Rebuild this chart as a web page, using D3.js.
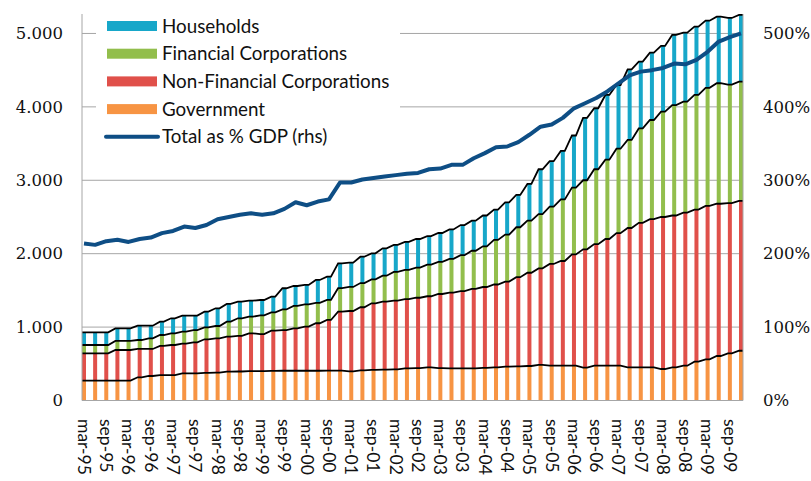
<!DOCTYPE html>
<html><head><meta charset="utf-8">
<script src="https://cdn.jsdelivr.net/npm/d3@7/dist/d3.min.js"></script>
<style>body{margin:0;background:#fff}svg{display:block}</style>
</head><body>
<svg id="c" width="811" height="481"></svg>
<script>
const quarters = [];
const yrs = ["95","96","97","98","99","00","01","02","03","04","05","06","07","08","09"];
const months = ["mar","jun","sep","dec"];
yrs.forEach(y => months.forEach(m => quarters.push(m + "-" + y)));

const government = [270,270,270,270,270,316,334,347,347,370,370,375,380,392,395,400,400,403,405,405,
  405,405,406,406,398,410,416,420,425,438,440,452,440,438,438,438,445,452,461,466,
  470,484,474,474,474,447,474,474,474,452,452,452,429,452,474,529,561,606,643,678];
const nonFinancial = [373,373,373,418,418,386,368,396,409,405,423,459,465,477,485,515,505,548,555,578,
  601,647,691,804,821,860,908,926,935,942,960,968,1011,1032,1052,1082,1101,1128,1159,1214,
  1270,1316,1386,1426,1516,1613,1656,1726,1806,1898,1968,2018,2071,2068,2086,2071,2089,2074,2047,2042];
const financial = [113,113,113,123,123,122,145,149,159,163,167,163,170,205,240,227,255,249,280,305,
  304,278,273,320,328,330,326,354,391,400,410,430,437,460,490,520,554,607,640,680,
  710,740,780,840,910,940,1020,1080,1150,1200,1286,1351,1434,1505,1510,1562,1610,1642,1612,1623];
const households = [173,173,173,172,172,195,172,182,205,218,196,213,241,241,226,218,209,214,289,272,
  264,312,317,339,330,359,355,373,368,380,390,390,394,400,410,410,420,413,440,440,
  500,610,620,660,710,850,831,882,868,962,910,917,896,955,941,931,914,907,909,909];
const gdpPct = [214,212,217,219,216,220,222,228,231,237,235,239,247,250,253,255,253,255,261,270,
  266,271,274,297,297,301,303,305,307,309,310,315,316,321,321,330,337,345,346,352,
  362,373,376,385,398,405,412,421,432,443,448,450,453,459,458,464,475,489,495,500];

const seriesNames = ["Government","Non-Financial Corporations","Financial Corporations","Households"];
const seriesData = [government, nonFinancial, financial, households];
const colors = ["#F79443","#E0504A","#92BE4C","#17A7C9"];
const leftTicks = [0,1000,2000,3000,4000,5000];
const rightTicks = [0,100,200,300,400,500];

const svg = d3.select("#c");
const L = 82, R = 743, T = 14, B = 400.5;
const barW = 4;
const x = d3.scalePoint().domain(quarters).range([L + barW/2, R - barW/2]);
const y = d3.scaleLinear().domain([0, 5265]).range([B, T]);
const y2 = d3.scaleLinear().domain([0, 526.5]).range([B, T]);

const rows = quarters.map((q,i) => {
  const o = {q};
  seriesNames.forEach((s,k) => o[s] = seriesData[k][i]);
  return o;
});
const stack = d3.stack().keys(seriesNames)(rows);

// gridlines
svg.append("g").selectAll("line").data(leftTicks.slice(1)).join("line")
  .attr("x1", L).attr("x2", R).attr("y1", d => y(d)).attr("y2", d => y(d))
  .attr("stroke", "#a6a6a6").attr("stroke-width", 1);

// bars
svg.append("g").selectAll("g").data(stack).join("g")
  .attr("fill", (d,k) => colors[k])
  .selectAll("rect").data(d => d).join("rect")
  .attr("x", d => x(d.data.q) - barW/2)
  .attr("width", barW)
  .attr("y", d => y(d[1]))
  .attr("height", d => y(d[0]) - y(d[1]));

// series lines
const sl = d3.line().x(d => d[0]).y(d => d[1]);
stack.forEach(layer => {
  const pts = [];
  layer.forEach(d => {
    const cx = x(d.data.q);
    pts.push([cx - barW/2, y(d[1])], [cx + barW/2, y(d[1])]);
  });
  svg.append("path").attr("d", sl(pts)).attr("fill","none")
    .attr("stroke","#000").attr("stroke-width",1.8);
});

// axes
const fmt = d3.formatLocale({decimal:",", thousands:".", grouping:[3], currency:["",""]}).format(",");
const ax = svg.append("g").attr("transform", `translate(${L},0)`)
  .call(d3.axisLeft(y).tickValues(leftTicks).tickFormat(fmt).tickSize(0).tickPadding(19));
ax.select(".domain").attr("stroke","#a6a6a6").attr("d", `M0,${T}V${B}`);
ax.selectAll("text").attr("font-family","DejaVu Serif").attr("font-size",16.5).attr("fill","#111");

const ax2 = svg.append("g").attr("transform", `translate(${R},0)`)
  .call(d3.axisRight(y2).tickValues(rightTicks).tickFormat(d => d + "%").tickSize(0).tickPadding(20));
ax2.select(".domain").attr("stroke","#a6a6a6").attr("d", `M0,${T}V${B}`);
ax2.selectAll("text").attr("font-family","DejaVu Serif").attr("font-size",16.5).attr("fill","#111");

svg.append("line").attr("x1", L).attr("x2", R).attr("y1", B).attr("y2", B).attr("stroke","#a6a6a6");

// x labels
svg.append("g").selectAll("text").data(quarters.filter((q,i) => i % 2 === 0)).join("text")
  .attr("transform", d => `translate(${x(d)},419) rotate(90)`)
  .attr("dy","0.35em")
  .attr("font-family","Lato").attr("font-size",17.5).attr("fill","#111")
  .text(d => d);

// GDP line
svg.append("path").datum(gdpPct)
  .attr("d", d3.line().x((d,i) => x(quarters[i])).y(d => y2(d)))
  .attr("fill","none").attr("stroke","#0E4E85").attr("stroke-width",4).attr("stroke-linejoin","round");

// legend
const lg = svg.append("g");
lg.append("rect").attr("x", 96).attr("y", 12).attr("width", 304).attr("height", 140).attr("fill","#fff");
const items = [
  {name:"Households", color:colors[3], type:"box"},
  {name:"Financial Corporations", color:colors[2], type:"box"},
  {name:"Non-Financial Corporations", color:colors[1], type:"box"},
  {name:"Government", color:colors[0], type:"box"},
  {name:"Total as % GDP (rhs)", color:"#0E4E85", type:"line"}
];
items.forEach((it, k) => {
  const cy = 26 + k * 27.7;
  if (it.type === "box") lg.append("rect").attr("x",107).attr("y",cy-5).attr("width",50).attr("height",10).attr("fill",it.color);
  else lg.append("line").attr("x1",106).attr("x2",158).attr("y1",cy).attr("y2",cy).attr("stroke",it.color).attr("stroke-width",4).attr("stroke-linecap","round");
  lg.append("text").attr("x",162).attr("y",cy).attr("dy","0.35em")
    .attr("font-family","Lato").attr("font-size",18.8).attr("fill","#111").text(it.name);
});
</script>
</body></html>
